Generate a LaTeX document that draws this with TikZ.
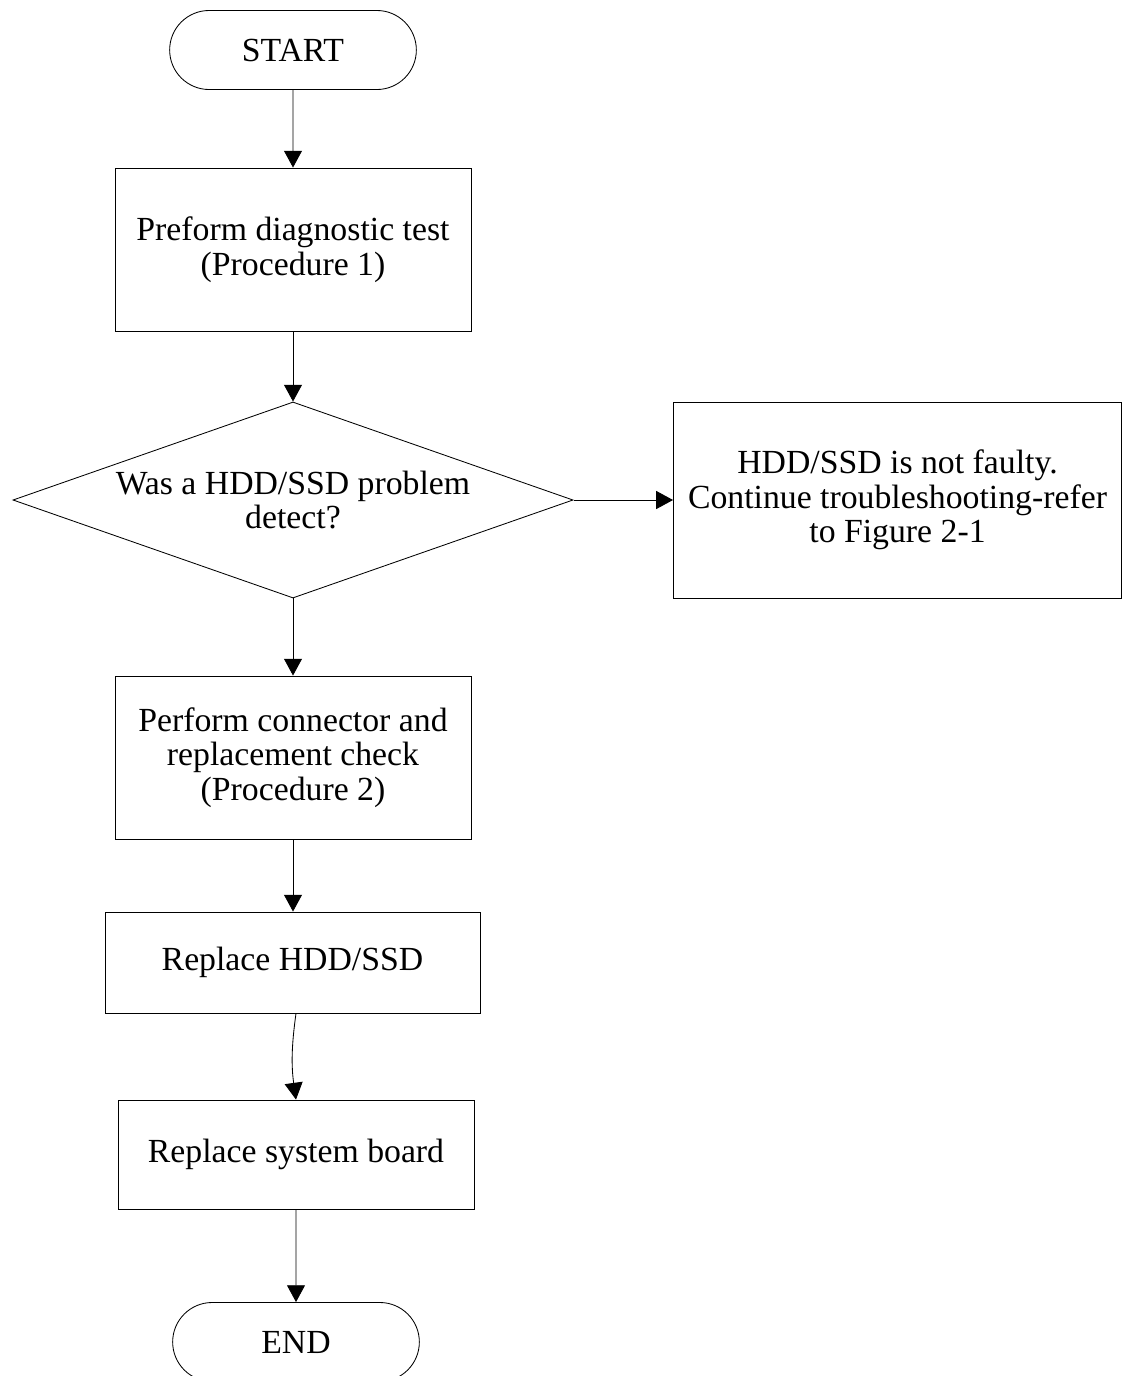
\documentclass[tikz,border=0pt]{standalone}
\usepackage{fontspec}
\setmainfont{Liberation Serif}
\usepackage{tikz}
\usetikzlibrary{
    positioning,
    arrows.meta,
    shapes.geometric,
    shapes.misc
}

\begin{document}
\begin{tikzpicture}[
    x=0.025cm, y=-0.025cm,
    every node/.style={font=\fontsize{24}{24.5}\selectfont},
    terminal/.style={rounded rectangle, draw, line width=0.6pt, minimum width=6.4cm, minimum height=1.975cm, align=center},
    process/.style={rectangle, draw, line width=0.6pt, minimum width=8.9cm, minimum height=4.075cm, align=center},
    decision/.style={diamond, draw, line width=0.6pt, shape aspect=2.857, inner sep=0pt, minimum width=14cm, minimum height=4.9cm, align=center},
    arrow/.style={line width=0.6pt, -{Triangle[length=0.42cm, width=0.45cm]}}
]
\useasboundingbox (0,0) rectangle (1123,1376);

\node[terminal] (start) at (293,50) {START};
\node[process] (diag) at (293,249.5) {Preform diagnostic test\\(Procedure 1)};
\node[decision] (detect) at (293,500) {Was a HDD/SSD problem\\detect?};
\node[process, minimum width=11.2cm, minimum height=4.9cm] (notfaulty) at (897.5,500) {HDD/SSD is not faulty.\\Continue troubleshooting-refer\\to Figure 2-1};
\node[process] (check) at (293,757.5) {Perform connector and\\replacement check\\(Procedure 2)};
\node[process, minimum width=9.375cm, minimum height=2.525cm] (rhdd) at (292.5,962.5) {Replace HDD/SSD};
\node[process, minimum height=2.725cm] (rboard) at (296,1154.5) {Replace system board};
\node[terminal] (end) at (296,1342) {END};

\draw[arrow] (start) -- (diag);
\draw[arrow] (diag) -- (detect);
\draw[arrow] (detect) -- (notfaulty);
\draw[arrow] (detect) -- (check);
\draw[arrow] (check) -- (check |- rhdd.north);
\draw[arrow] (rhdd.south -| rboard) to[bend right=8] (rboard.north);
\draw[arrow] (rboard) -- (end);
\end{tikzpicture}
\end{document}
